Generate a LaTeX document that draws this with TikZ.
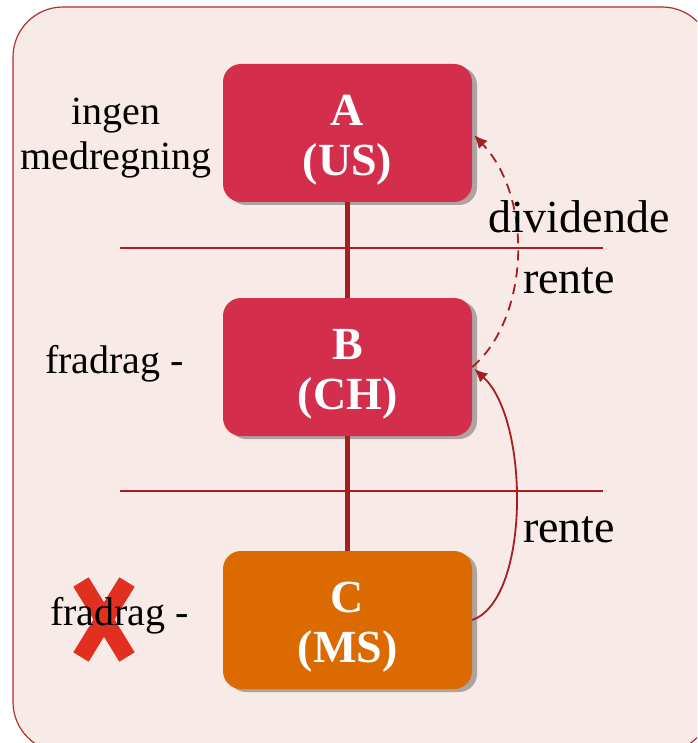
\documentclass[tikz,border=0pt]{standalone}
\usepackage{fontspec}
\setmainfont{Liberation Serif}
\usetikzlibrary{arrows.meta,shadows}
\definecolor{framered}{RGB}{176,48,48}
\definecolor{framefill}{RGB}{248,234,230}
\definecolor{boxred}{RGB}{212,46,77}
\definecolor{boxorange}{RGB}{219,106,0}
\definecolor{linkred}{RGB}{165,30,34}
\definecolor{crossred}{RGB}{225,48,31}
\newcommand{\toppad}{\rule{0pt}{44pt}}
\begin{document}
\begin{tikzpicture}[x=1pt,y=-1pt,
  entity/.style={rectangle,rounded corners=18pt,minimum width=249pt,minimum height=138pt,
    text=white,align=center,font=\fontsize{46}{50}\selectfont\bfseries,
    drop shadow={shadow xshift=5pt,shadow yshift=-3pt,fill=black,opacity=0.3}},
  lbl/.style={font=\fontsize{40}{45}\selectfont,inner sep=0pt},
  biglbl/.style={font=\fontsize{46}{50}\selectfont,inner sep=0pt},
  flow/.style={linkred,line width=1.8pt,-{Latex[length=13pt,width=12pt]},shorten >=3pt}]
\useasboundingbox (0,0) rectangle (697,743);
\clip (0,0) rectangle (697,743);
% frame
\draw [framered,fill=framefill,line width=1.2pt,rounded corners=50pt] (13,7) rectangle (712,752);
% borders
\draw [linkred,line width=1.5pt] (120,248) -- (603,248);
\draw [linkred,line width=1.5pt] (120,491) -- (603,491);
% entities
\node [entity,fill=boxred] (a) at (347.5,133) {\toppad A\\(US)};
\node [entity,fill=boxred] (b) at (347.5,367) {\toppad B\\(CH)};
\node [entity,fill=boxorange] (c) at (347.5,620) {\toppad C\\(MS)};
\draw [linkred,line width=4.5pt] (a.south) -- (b.north);
\draw [linkred,line width=4.5pt] (b.south) -- (c.north);
% flows
\draw [flow,dashed,dash pattern=on 10pt off 7pt] (b.east) .. controls (528,320) and (535,200) .. (a.east);
\draw [flow] (c.east) .. controls (530,600) and (530,420) .. (b.east);
% labels
\node [lbl,align=center] (lnone) at (116,138) {ingen\\medregning};
\node [lbl,anchor=base west] (lded) at (45,373) {fradrag -};
\draw [crossred,line width=18pt] (81,582) -- (127,657);
\draw [crossred,line width=18pt] (127,582) -- (81,657);
\node [lbl,anchor=base west] (lno) at (50,625) {fradrag -};
\node [biglbl,anchor=base west] (ldiv) at (488,232) {dividende};
\node [biglbl,anchor=base west] (lrent) at (523,293) {rente};
\node [biglbl,anchor=base west] (lrentb) at (523,542) {rente};
\end{tikzpicture}
\end{document}
